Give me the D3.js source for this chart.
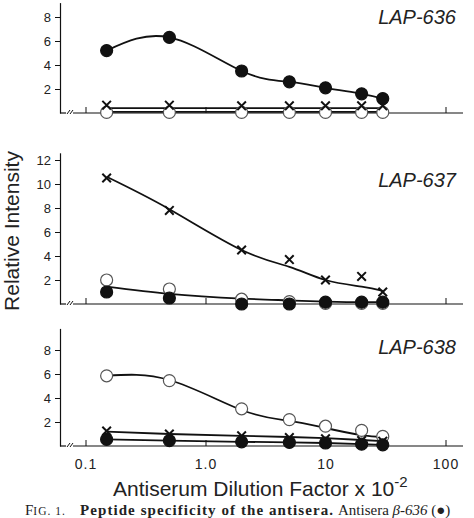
<!DOCTYPE html>
<html>
<head>
<meta charset="utf-8">
<script src="https://cdn.jsdelivr.net/npm/d3@7"></script>
<style>
  html, body { margin: 0; padding: 0; background: #fff; }
  svg { display: block; }
</style>
</head>
<body>
<script>
// ---------- DATA ----------
const dilution = [0.15, 0.5, 2, 5, 10, 20, 30];
const xTickValues = [0.1, 1, 10, 100];
const xTickLabels = ["0.1", "1.0", "10", "100"];

// LAP-636
const lap636Filled = [5.2, 6.3, 3.5, 2.6, 2.1, 1.6, 1.2];
const lap636Cross  = [0.65, 0.65, 0.6, 0.6, 0.6, 0.6, 0.6];
const lap636Open   = [0.05, 0.05, 0.05, 0.05, 0.05, 0.05, 0.05];
const lap636FilledFit = [5.2, 6.3, 3.5, 2.6, 2.1, 1.6, 1.2];
const lap636CrossFit  = [0.4, 0.4, 0.4, 0.4, 0.4, 0.4, 0.4];
const lap636OpenFit   = [0.1, 0.1, 0.1, 0.1, 0.1, 0.1, 0.1];
const lap636Ticks = [2, 4, 6, 8];

// LAP-637
const lap637Cross  = [10.5, 7.8, 4.5, 3.7, 2.0, 2.3, 1.0];
const lap637Open   = [2.0, 1.25, 0.4, 0.2, 0.05, 0.05, 0.05];
const lap637Filled = [1.0, 0.5, 0.0, 0.0, 0.15, 0.15, 0.15];
const lap637CrossFit = [10.6, 7.9, 4.5, 3.1, 2.0, 1.45, 1.1];
const lap637LowFit   = [1.45, 0.85, 0.45, 0.3, 0.2, 0.15, 0.15];
const lap637Ticks = [2, 4, 6, 8, 10, 12];

// LAP-638
const lap638Open   = [5.85, 5.45, 3.1, 2.2, 1.65, 1.3, 0.8];
const lap638Cross  = [1.25, 1.0, 0.85, 0.7, 0.6, 0.45, 0.4];
const lap638Filled = [0.55, 0.45, 0.35, 0.3, 0.25, 0.15, 0.1];
const lap638OpenFit   = [5.85, 5.5, 3.0, 2.1, 1.5, 0.9, 0.75];
const lap638CrossFit  = [1.2, 1.0, 0.85, 0.75, 0.65, 0.5, 0.4];
const lap638FilledFit = [0.55, 0.45, 0.35, 0.3, 0.25, 0.15, 0.1];
const lap638Ticks = [2, 4, 6, 8];

const panelNames = ["LAP-636", "LAP-637", "LAP-638"];

// ---------- LAYOUT ----------
const W = 474, H = 518;
const axisLeftX = 60, axisRightX = 463;
const unitPx = 12;
const ink = "#111";

const svg = d3.select("body").append("svg")
  .attr("width", W).attr("height", H)
  .style("font-family", "'Liberation Sans', Arial, Helvetica, sans-serif");

const x = d3.scaleLog().domain([0.1, 100]).range([85.5, 445.5]);

const panels = [
  { name: panelNames[0], base: 113, top: 9.2, ticks: lap636Ticks, labelY: 24,
    fits: [ {v: lap636OpenFit, curve: d3.curveLinear},
            {v: lap636CrossFit, curve: d3.curveLinear},
            {v: lap636FilledFit, curve: d3.curveNatural} ],
    series: [ {v: lap636Open, m: "open"}, {v: lap636Cross, m: "cross"}, {v: lap636Filled, m: "filled"} ] },
  { name: panelNames[1], base: 304, top: 12.6, ticks: lap637Ticks, labelY: 187,
    fits: [ {v: lap637LowFit, curve: d3.curveMonotoneX},
            {v: lap637CrossFit, curve: d3.curveNatural} ],
    series: [ {v: lap637Open, m: "open"}, {v: lap637Filled, m: "filled"}, {v: lap637Cross, m: "cross"} ] },
  { name: panelNames[2], base: 446, top: 9.8, ticks: lap638Ticks, labelY: 354,
    fits: [ {v: lap638FilledFit, curve: d3.curveLinear},
            {v: lap638CrossFit, curve: d3.curveLinear},
            {v: lap638OpenFit, curve: d3.curveNatural} ],
    series: [ {v: lap638Open, m: "open"}, {v: lap638Cross, m: "cross"}, {v: lap638Filled, m: "filled"} ] }
];

panels.forEach((p, pi) => {
  const y = d3.scaleLinear().domain([0, p.top]).range([p.base, p.base - p.top * unitPx]);
  const g = svg.append("g");

  // y axis
  const ya = g.append("g").attr("transform", `translate(${axisLeftX},0)`)
    .call(d3.axisLeft(y).tickValues(p.ticks).tickSize(5).tickSizeOuter(0).tickPadding(4));
  ya.select(".domain").attr("stroke", ink).attr("stroke-width", 1.2);
  ya.selectAll(".tick line").attr("stroke", ink).attr("stroke-width", 1);
  ya.selectAll(".tick text").attr("fill", "#222").style("font-size", "13px")
    .style("font-family", "'Liberation Sans', Arial, sans-serif");

  // x axis baseline with break marks
  g.append("line").attr("x1", axisLeftX).attr("x2", 66).attr("y1", p.base).attr("y2", p.base)
    .attr("stroke", ink).attr("stroke-width", 1.2);
  g.append("line").attr("x1", 73).attr("x2", axisRightX).attr("y1", p.base).attr("y2", p.base)
    .attr("stroke", ink).attr("stroke-width", 1.2);
  [67, 70].forEach(sx => {
    g.append("line").attr("x1", sx).attr("y1", p.base + 1).attr("x2", sx + 3).attr("y2", p.base - 3)
      .attr("stroke", ink).attr("stroke-width", 1);
  });

  // x ticks (pointing up)
  const xa = g.append("g").attr("transform", `translate(0,${p.base})`)
    .call(d3.axisTop(x).tickValues(xTickValues).tickSize(6).tickSizeOuter(0).tickFormat(""));
  xa.select(".domain").remove();
  xa.selectAll(".tick line").attr("stroke", ink).attr("stroke-width", 1);

  if (pi === panels.length - 1) {
    const xb = g.append("g").attr("transform", `translate(0,${p.base})`)
      .call(d3.axisBottom(x).tickValues(xTickValues).tickSize(0).tickPadding(13)
        .tickFormat((d, i) => xTickLabels[i]));
    xb.select(".domain").remove();
    xb.selectAll(".tick text").attr("fill", "#222").style("font-size", "14px")
      .style("letter-spacing", "1px")
      .style("font-family", "'Liberation Sans', Arial, sans-serif");
  }

  // fit lines
  p.fits.forEach(f => {
    const line = d3.line().x((d, i) => x(dilution[i])).y(d => y(d)).curve(f.curve);
    g.append("path").datum(f.v).attr("d", line)
      .attr("fill", "none").attr("stroke", ink).attr("stroke-width", 1.8);
  });

  // markers
  p.series.forEach(s => {
    const pts = s.v.map((v, i) => ({ cx: x(dilution[i]), cy: y(v) }));
    if (s.m === "cross") {
      const r = 4.3;
      pts.forEach(pt => {
        g.append("path")
          .attr("d", `M${pt.cx - r},${pt.cy - r}L${pt.cx + r},${pt.cy + r}M${pt.cx + r},${pt.cy - r}L${pt.cx - r},${pt.cy + r}`)
          .attr("stroke", ink).attr("stroke-width", 2).attr("fill", "none");
      });
    } else {
      g.selectAll(null).data(pts).enter().append("circle")
        .attr("cx", d => d.cx).attr("cy", d => d.cy).attr("r", 6)
        .attr("fill", s.m === "filled" ? ink : "#fff")
        .attr("stroke", s.m === "filled" ? ink : "#555")
        .attr("stroke-width", 1.2);
    }
  });

  // panel label
  g.append("text").attr("x", 456).attr("y", p.labelY).attr("text-anchor", "end")
    .style("font-size", "20px").style("font-style", "italic").attr("fill", "#222")
    .text(p.name);
});

// axis titles
svg.append("text").attr("transform", "translate(19,231) rotate(-90)")
  .attr("text-anchor", "middle").style("font-size", "21px").attr("fill", "#222")
  .text("Relative Intensity");

const xt = svg.append("text").attr("x", 113).attr("y", 496)
  .style("font-size", "21px").attr("fill", "#222");
xt.append("tspan").text("Antiserum Dilution Factor x 10");
xt.append("tspan").attr("dy", -9).style("font-size", "15px").text("-2");

// caption
const capFont = "'Liberation Serif', 'Times New Roman', serif";
const capY = 515;
const capG = svg.append("g").style("font-family", capFont).attr("fill", "#222");
const c1 = capG.append("text").attr("x", 25).attr("y", capY).style("font-size", "15px");
c1.append("tspan").text("F");
c1.append("tspan").text("IG. 1.").style("font-size", "11.5px").style("letter-spacing", "1px");
capG.append("text").attr("x", 80).attr("y", capY).style("font-size", "15px")
  .style("font-weight", "bold").attr("textLength", 253).attr("lengthAdjust", "spacing")
  .text("Peptide specificity of the antisera.");
const c3 = capG.append("text").attr("x", 338).attr("y", capY).style("font-size", "15px");
c3.append("tspan").text("Antisera ");
c3.append("tspan").style("font-style", "italic").text("β-636");
c3.append("tspan").text(" (●)");
</script>
</body>
</html>
